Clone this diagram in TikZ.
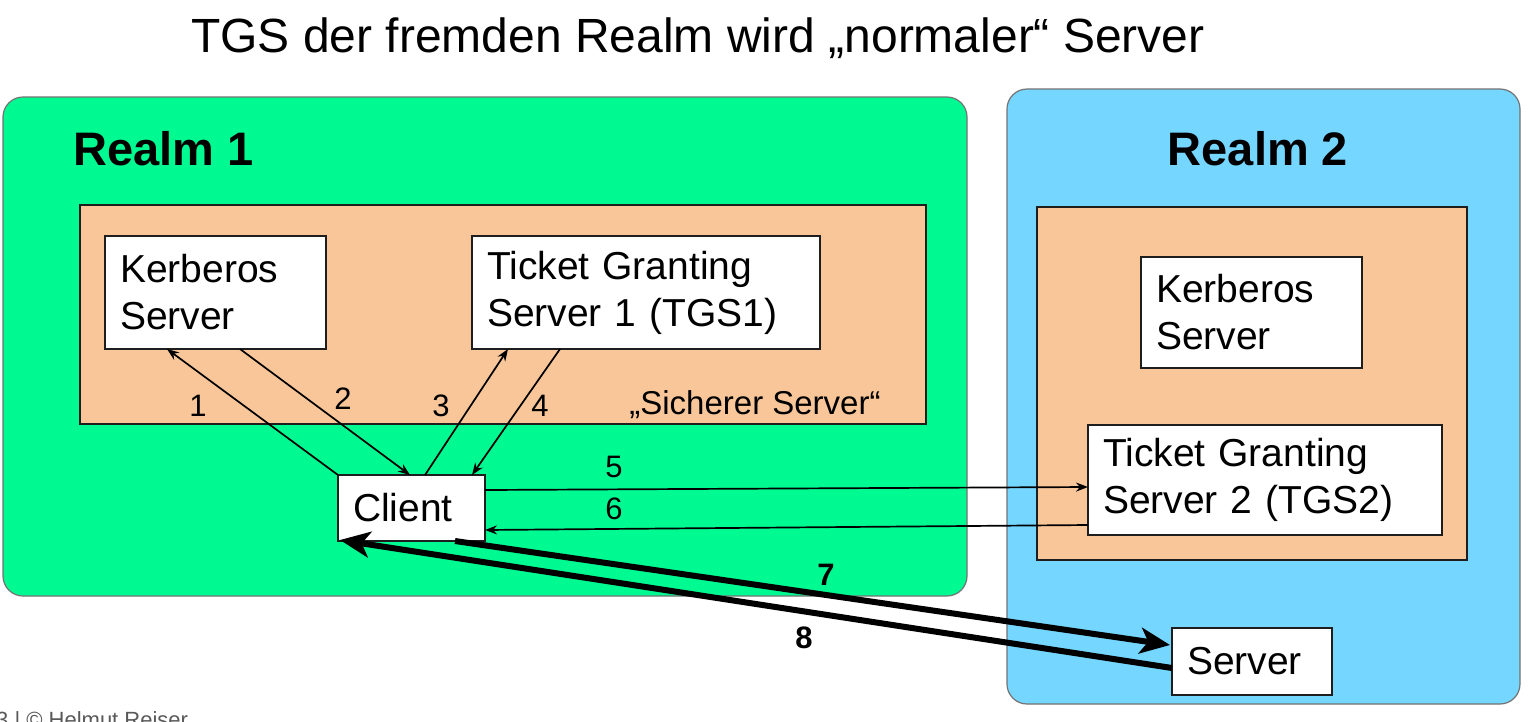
\documentclass[tikz,border=0pt]{standalone}
\usepackage{fontspec}
\setmainfont{Liberation Sans}
\usetikzlibrary{arrows.meta,calc}
\definecolor{realmgreen}{RGB}{0,250,146}
\definecolor{realmblue}{RGB}{117,214,255}
\definecolor{zoneorange}{RGB}{248,198,153}
\definecolor{boxline}{RGB}{30,30,30}
\begin{document}
\begin{tikzpicture}[x=1pt,y=-1pt,
  realm/.style={draw=black!55, line width=1.2pt, rounded corners=20pt},
  zone/.style={draw=boxline, line width=2pt, fill=zoneorange},
  srv/.style={draw=boxline, line width=2pt, fill=white, anchor=north west, outer sep=0pt,
    inner ysep=0pt, inner xsep=15pt, align=left, font=\fontsize{39}{47}\selectfont},
  thin/.style={line width=1.7pt, -{Stealth[length=12pt,width=9pt]}},
  thick/.style={line width=6pt, -{Stealth[length=30pt,width=26pt,inset=8pt]}},
  num/.style={font=\fontsize{31}{31}\selectfont},
  bnum/.style={font=\fontsize{31}{31}\selectfont\bfseries}]
\useasboundingbox (0,0) rectangle (1537,721);
\fill[white] (0,0) rectangle (1537,721);
% title
\node[font=\fontsize{48}{48}\selectfont, anchor=base] (title) at (698,52) {TGS der fremden Realm wird „normaler“ Server};
% realms
\draw[realm, fill=realmgreen] (3,97) rectangle (967,596);
\draw[realm, fill=realmblue] (1007,89) rectangle (1520,704);
\node[font=\fontsize{47}{47}\selectfont\bfseries, anchor=base west] (r1) at (70,165) {Realm 1};
\node[font=\fontsize{47}{47}\selectfont\bfseries, anchor=base] (r2) at (1258,165) {Realm 2};
% secure zones
\draw[zone] (80,205) rectangle (926,424);
\draw[zone] (1037,207) rectangle (1467,560);
\node[font=\fontsize{33}{33}\selectfont, anchor=base] (sicher) at (755,414) {„Sicherer Server“};
% servers
\node[srv, minimum width=221pt, minimum height=113pt, text width=191pt] (ks1) at (105,236) {Kerberos\\Server};
\node[srv, minimum width=348pt, minimum height=113pt, text width=318pt] (tgs1) at (472,236) {Ticket Granting\\Server 1 (TGS1)};
\node[srv, minimum width=147pt, minimum height=66pt, text width=117pt] (client) at (338,475) {Client};
\node[srv, minimum width=221pt, minimum height=111pt, text width=191pt] (ks2) at (1141,257) {Kerberos\\Server};
\node[srv, minimum width=354pt, minimum height=110pt, text width=324pt] (tgs2) at (1088,425) {Ticket Granting\\Server 2 (TGS2)};
\node[srv, minimum width=160pt, minimum height=67pt, text width=130pt] (server) at (1172,628) {Server};
% connectors
\draw[thin] (client.north west) -- ($(ks1.south west)+(62,0)$);
\draw[thin] ($(ks1.south west)+(135,0)$) -- ($(client.north west)+(72,0)$);
\draw[thin] ($(client.north west)+(87,0)$) -- ($(tgs1.south west)+(36,0)$);
\draw[thin] ($(tgs1.south west)+(88,0)$) -- ($(client.north west)+(134,0)$);
\draw[thin] ($(client.north east)+(0,15)$) -- ($(tgs2.north west)+(0,62)$);
\draw[thin] ($(tgs2.north west)+(0,100)$) -- ($(client.north east)+(0,55)$);
\draw[thick] ($(client.south west)+(117,0)$) -- ($(server.north west)+(-2,17)$);
\draw[thick] ($(server.north west)+(0,40)$) -- ($(client.south west)+(2,-1)$);
% labels
\node[num, anchor=base] (n1) at (198,416) {1};
\node[num, anchor=base] (n2) at (343,409) {2};
\node[num, anchor=base] (n3) at (441,416) {3};
\node[num, anchor=base] (n4) at (540,416) {4};
\node[num, anchor=base] (n5) at (614,477) {5};
\node[num, anchor=base] (n6) at (614,519) {6};
\node[bnum, anchor=base] (n7) at (826,585) {7};
\node[bnum, anchor=base] (n8) at (804,648) {8};
% footer
\node[font=\fontsize{22}{22}\selectfont, text=black!65, anchor=north west, inner sep=0pt] (foot) at (-4,711) {3 | © Helmut Reiser};
\end{tikzpicture}
\end{document}
